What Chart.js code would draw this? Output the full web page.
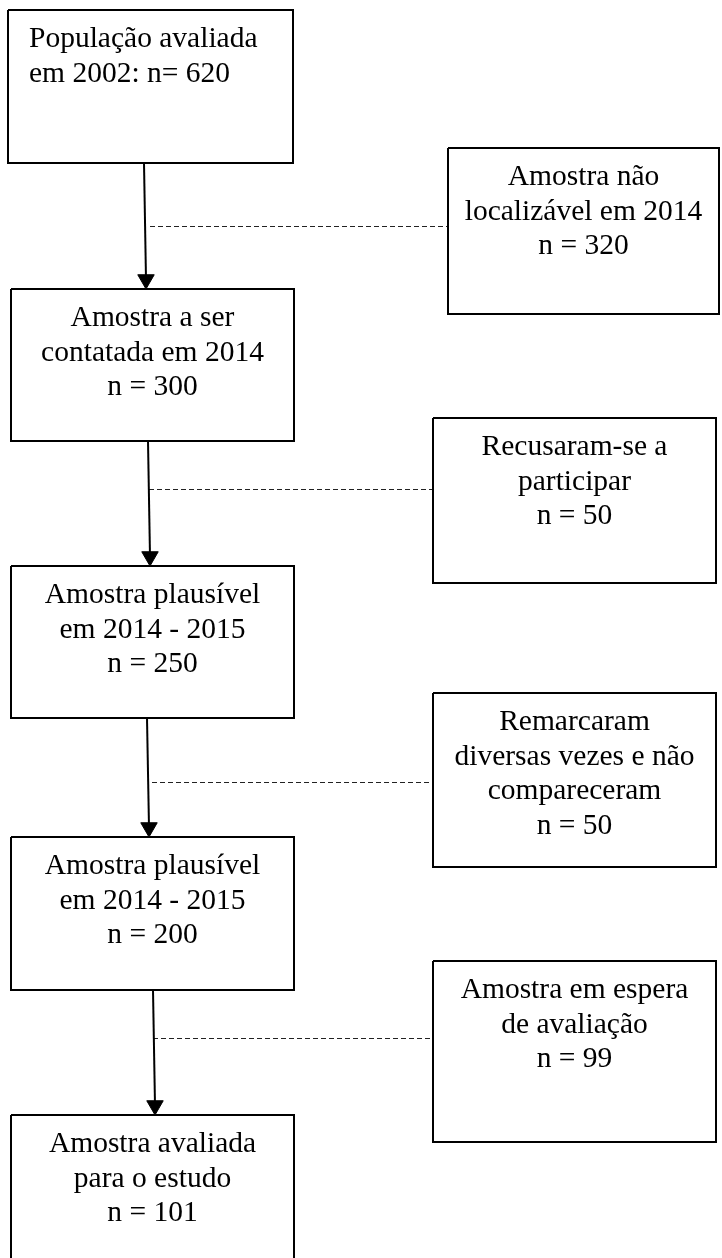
<!DOCTYPE html>
<html>
<head>
<meta charset="utf-8">
<script src="https://cdn.jsdelivr.net/npm/chart.js@4.4.1/dist/chart.umd.min.js"></script>
<style>
  html, body { margin: 0; padding: 0; background: #fff; }
  #wrap { width: 722px; height: 1258px; position: relative; }
</style>
</head>
<body>
<div id="wrap"><canvas id="flow" width="722" height="1258"></canvas></div>
<script>
// flow stages (left column) and exclusions (right column)
const stageLines = [
  ["População avaliada", "em 2002:"],
  ["Amostra a ser", "contatada em 2014"],
  ["Amostra plausível", "em 2014 - 2015"],
  ["Amostra plausível", "em 2014 - 2015"],
  ["Amostra avaliada", "para o estudo"],
];
const stageN = [620, 300, 250, 200, 101];

const exclLines = [
  ["Amostra não", "localizável em 2014"],
  ["Recusaram-se a", "participar"],
  ["Remarcaram", "diversas vezes e não", "compareceram"],
  ["Amostra em espera", "de avaliação"],
];
const exclN = [320, 50, 50, 99];

// layout (page pixels): [left, top, right, bottom]
const stageBoxes = [
  [8, 10, 293, 163],
  [11, 289, 294, 441],
  [11, 566, 294, 718],
  [11, 837, 294, 990],
  [11, 1115, 294, 1290],
];
const exclBoxes = [
  [448, 148, 719, 314],
  [433, 418, 716, 583],
  [433, 693, 716, 867],
  [433, 961, 716, 1142],
];
const arrowX = [[144, 146], [148, 150], [147, 149], [153, 155]];
const dashY = [226, 489, 782, 1038];
const dashStartX = [150, 149, 152, 153];

const FONT = "29.5px 'Liberation Serif', 'Times New Roman', serif";
const LINE_H = 34.5;
const HEAD_R = 9.5;

function boxPath(b) {
  const [l, t, r, bt] = b;
  return [{x: l, y: t}, {x: r, y: t}, {x: r, y: bt}, {x: l, y: bt}, {x: l, y: t}];
}

const datasets = [];

stageBoxes.concat(exclBoxes).forEach((b) => {
  datasets.push({
    data: boxPath(b),
    showLine: true,
    borderColor: "#000",
    borderWidth: 2,
    pointRadius: 0,
    fill: false,
    tension: 0,
  });
});

// arrows between consecutive stages
arrowX.forEach((ax, i) => {
  const top = stageBoxes[i][3];
  const tip = stageBoxes[i + 1][1];
  datasets.push({
    data: [{x: ax[0], y: top}, {x: ax[1], y: tip - HEAD_R}],
    showLine: true,
    borderColor: "#000",
    borderWidth: 2,
    pointRadius: [0, HEAD_R],
    pointStyle: "triangle",
    rotation: 180,
    pointBackgroundColor: "#000",
    pointBorderColor: "#000",
    pointBorderWidth: 1,
    fill: false,
  });
});

// dashed links to exclusion boxes (half pixel offset keeps 1px line crisp)
dashY.forEach((y, i) => {
  datasets.push({
    data: [{x: dashStartX[i], y: y + 0.5}, {x: exclBoxes[i][0], y: y + 0.5}],
    showLine: true,
    borderColor: "#222",
    borderWidth: 1,
    borderDash: [5, 3],
    pointRadius: 0,
    fill: false,
  });
});

const boxText = {
  id: "boxText",
  afterDatasetsDraw(chart) {
    const ctx = chart.ctx;
    const xs = chart.scales.x, ys = chart.scales.y;
    ctx.save();
    ctx.fillStyle = "#000";
    ctx.font = FONT;
    ctx.textBaseline = "alphabetic";

    stageLines.forEach((lines, i) => {
      const b = stageBoxes[i];
      let rows;
      if (i === 0) {
        rows = [lines[0], lines[1] + " n= " + stageN[i]];
      } else {
        rows = lines.concat(["n = " + stageN[i]]);
      }
      const left = i === 0;
      ctx.textAlign = left ? "left" : "center";
      const x = left ? xs.getPixelForValue(b[0] + 21) : xs.getPixelForValue((b[0] + b[2]) / 2);
      rows.forEach((t, k) => {
        ctx.fillText(t, x, ys.getPixelForValue(b[1] + 37 + k * LINE_H));
      });
    });

    exclLines.forEach((lines, i) => {
      const b = exclBoxes[i];
      const rows = lines.concat(["n = " + exclN[i]]);
      ctx.textAlign = "center";
      const x = xs.getPixelForValue((b[0] + b[2]) / 2);
      rows.forEach((t, k) => {
        ctx.fillText(t, x, ys.getPixelForValue(b[1] + 37 + k * LINE_H));
      });
    });
    ctx.restore();
  },
};

new Chart(document.getElementById("flow"), {
  type: "scatter",
  data: { datasets },
  options: {
    responsive: false,
    animation: false,
    layout: { padding: 0, autoPadding: false },
    plugins: {
      legend: { display: false },
      tooltip: { enabled: false },
    },
    scales: {
      x: { type: "linear", min: 0, max: 722, display: false },
      y: { type: "linear", min: 0, max: 1258, reverse: true, display: false },
    },
  },
  plugins: [boxText],
});
</script>
</body>
</html>
